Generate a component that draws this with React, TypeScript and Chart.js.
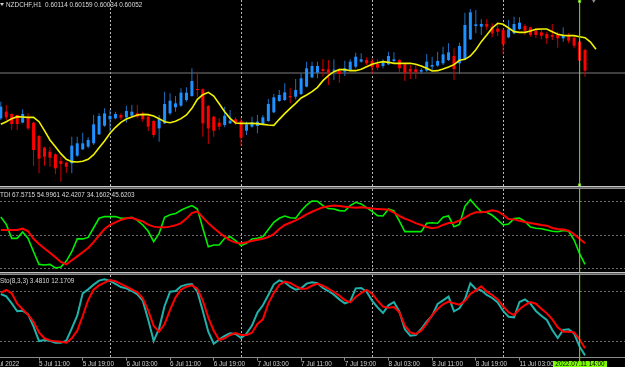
import React, { useEffect, useRef } from "react";
import { Chart, registerables } from "chart.js";
Chart.register(...registerables);

// ---------- data (H1 bars, 5 Jul 04:00 .. 11 Jul 15:00) ----------
const OPEN = [
  0.59909,0.59929,0.59922,0.59919,0.59896,0.59912,0.59896,0.59856,0.59821,0.59809,
  0.59801,0.59781,0.59776,0.59774,0.59797,0.59816,0.59824,0.59834,0.59861,0.59887,
  0.59906,0.59909,0.59919,0.59912,0.59917,0.59924,0.59921,0.59914,0.59901,0.59879,
  0.59894,0.59924,0.59942,0.59947,0.59964,0.59976,0.59997,0.59996,0.59946,0.59914,
  0.59896,0.59889,0.59894,0.59906,0.59901,0.59872,0.59884,0.59886,0.59892,0.59901,
  0.59927,0.59961,0.59964,0.59976,0.59974,0.59982,0.60004,0.60032,0.60046,0.60057,
  0.60056,0.60052,0.60051,0.60049,0.60054,0.60064,0.60079,0.60084,0.60081,0.60072,
  0.60066,0.60071,0.60081,0.60084,0.60071,0.60057,0.60056,0.60049,0.60052,0.60064,
  0.60067,0.60074,0.60084,0.60096,0.60074,0.60086,0.60146,0.60186,0.60184,0.60192,
  0.60184,0.60178,0.60174,0.60152,0.60164,0.60177,0.60186,0.60182,0.60172,0.60167,
  0.60162,0.60159,0.60159,0.60149,0.60156,0.60151,0.60139,0.60114,
];
const HIGH = [
  0.59959,0.59949,0.59924,0.59919,0.59936,0.59924,0.59899,0.59859,0.59824,0.59824,
  0.59804,0.59794,0.59779,0.59854,0.59854,0.59866,0.59852,0.59919,0.59924,0.59939,
  0.59934,0.59929,0.59924,0.59947,0.59949,0.59949,0.59929,0.59919,0.59904,0.59919,
  0.59989,0.59984,0.59976,0.59999,0.60002,0.60059,0.60049,0.59999,0.59949,0.59916,
  0.59909,0.59944,0.59934,0.59912,0.59909,0.59899,0.59914,0.59919,0.59919,0.59967,
  0.59982,0.59994,0.60014,0.60001,0.60027,0.60044,0.60079,0.60079,0.60079,0.60087,
  0.60084,0.60086,0.60059,0.60082,0.60086,0.60106,0.60104,0.60092,0.60089,0.60086,
  0.60086,0.60109,0.60107,0.60086,0.60074,0.60069,0.60069,0.60059,0.60102,0.60094,
  0.60109,0.60124,0.60134,0.60119,0.60136,0.60226,0.60237,0.60234,0.60206,0.60206,
  0.60194,0.60196,0.60179,0.60204,0.60214,0.60212,0.60192,0.60184,0.60179,0.60176,
  0.60169,0.60192,0.60169,0.60182,0.60164,0.60159,0.60144,0.60118,
];
const LOW = [
  0.59904,0.59904,0.59874,0.59874,0.59894,0.59874,0.59767,0.59744,0.59767,0.59764,
  0.59742,0.59719,0.59746,0.59744,0.59794,0.59814,0.59819,0.59829,0.59859,0.59884,
  0.59869,0.59906,0.59904,0.59896,0.59914,0.59909,0.59899,0.59871,0.59852,0.59839,
  0.59892,0.59919,0.59929,0.59944,0.59959,0.59974,0.59974,0.59854,0.59832,0.59854,
  0.59874,0.59882,0.59892,0.59889,0.59826,0.59859,0.59881,0.59864,0.59889,0.59899,
  0.59924,0.59959,0.59961,0.59954,0.59966,0.59979,0.60002,0.60029,0.60029,0.60034,
  0.60009,0.60024,0.60016,0.60036,0.60052,0.60059,0.60076,0.60069,0.60042,0.60054,
  0.60059,0.60069,0.60076,0.60044,0.60021,0.60027,0.60027,0.60042,0.60049,0.60051,
  0.60064,0.60069,0.60081,0.60024,0.60042,0.60084,0.60144,0.60164,0.60159,0.60174,
  0.60152,0.60156,0.60101,0.60149,0.60161,0.60174,0.60159,0.60154,0.60149,0.60146,
  0.60132,0.60144,0.60121,0.60139,0.60134,0.60119,0.60079,0.60034,
];
const CLOSE = [
  0.59944,0.59912,0.59892,0.59892,0.59922,0.59879,0.59814,0.59788,0.59794,0.59791,
  0.59759,0.59772,0.59764,0.59827,0.59834,0.59834,0.59844,0.59891,0.59916,0.59924,
  0.59916,0.59922,0.59911,0.59931,0.59929,0.59914,0.59906,0.59884,0.59859,0.59907,
  0.59952,0.59962,0.59954,0.59986,0.59986,0.60021,0.59994,0.59894,0.59879,0.59872,
  0.59884,0.59917,0.59902,0.59894,0.59851,0.59891,0.59897,0.59899,0.59912,0.59952,
  0.59972,0.59979,0.59987,0.59972,0.59994,0.60029,0.60059,0.60066,0.60066,0.60051,
  0.60047,0.60054,0.60042,0.60059,0.60079,0.60094,0.60086,0.60074,0.60062,0.60061,
  0.60076,0.60096,0.60086,0.60059,0.60046,0.60049,0.60047,0.60054,0.60079,0.60069,
  0.60081,0.60101,0.60107,0.60057,0.60126,0.60189,0.60227,0.60191,0.60192,0.60184,
  0.60164,0.60169,0.60131,0.60176,0.60192,0.60196,0.60172,0.60159,0.60159,0.60157,
  0.60149,0.60154,0.60149,0.60159,0.60142,0.60127,0.60082,0.60052,
];
// shifted moving average (extends 2 bars beyond the last candle)
const MA = [
  0.59891,0.59899,0.59908,0.59914,0.59913,0.59912,0.59912,0.59899,0.59872,0.59844,
  0.59824,0.59803,0.59786,0.59779,0.59778,0.59780,0.59786,0.59800,0.59821,0.59841,
  0.59864,0.59882,0.59897,0.59907,0.59913,0.59919,0.59921,0.59920,0.59916,0.59908,
  0.59899,0.59896,0.59900,0.59908,0.59919,0.59939,0.59966,0.59980,0.59987,0.59976,
  0.59953,0.59929,0.59909,0.59895,0.59894,0.59894,0.59894,0.59893,0.59891,0.59889,
  0.59888,0.59906,0.59923,0.59939,0.59954,0.59970,0.59979,0.59989,0.60002,0.60022,
  0.60037,0.60049,0.60055,0.60055,0.60052,0.60052,0.60056,0.60064,0.60071,0.60076,
  0.60079,0.60077,0.60074,0.60074,0.60074,0.60074,0.60071,0.60066,0.60059,0.60051,
  0.60052,0.60057,0.60063,0.60070,0.60083,0.60086,0.60096,0.60115,0.60139,0.60159,
  0.60180,0.60194,0.60191,0.60180,0.60169,0.60167,0.60167,0.60171,0.60176,0.60177,
  0.60177,0.60169,0.60161,0.60158,0.60157,0.60157,0.60154,0.60151,0.60138,0.60116,
];
const TDI_GREEN = [
  59.7,55.7,48.2,48.2,51.6,48.2,41.0,34.2,33.9,34.2,
  32.3,32.8,36.0,41.0,47.9,47.9,48.7,53.9,59.0,59.9,
  59.9,59.9,59.0,59.0,59.5,57.9,55.4,52.0,46.4,50.9,
  59.5,60.9,61.5,63.3,64.7,65.8,64.0,53.6,43.7,44.6,
  44.6,48.2,49.1,47.0,44.3,45.5,47.9,48.2,49.1,52.9,
  56.8,59.0,60.2,59.3,59.0,62.9,66.1,68.3,68.1,65.8,
  64.2,64.0,63.1,62.9,65.8,67.6,66.7,64.7,62.7,60.4,
  60.2,64.0,62.9,57.5,51.8,51.8,51.8,51.8,56.3,56.6,
  56.3,59.5,60.2,54.5,55.7,65.4,69.0,65.6,62.5,62.2,
  60.6,58.1,55.4,55.9,58.8,59.1,57.3,54.3,53.6,53.4,
  52.7,52.0,51.8,52.5,52.0,47.3,40.0,34.16,
];
const TDI_RED = [
  52.7,52.7,52.7,52.7,53.4,52.0,48.0,45.2,42.8,40.5,
  38.0,35.5,34.2,36.4,38.5,40.7,43.0,46.2,49.8,53.2,
  55.4,56.8,58.1,59.0,59.3,58.2,57.3,55.6,54.5,54.1,
  54.1,54.5,55.2,56.4,58.8,61.8,62.7,59.5,56.4,53.8,
  51.3,49.1,47.1,45.9,45.5,46.1,46.8,47.5,48.0,48.9,
  50.5,53.2,55.4,56.6,57.9,59.3,61.1,62.5,63.8,64.9,
  65.4,65.8,65.6,65.2,64.9,64.7,64.9,64.7,64.2,64.0,
  63.8,63.6,62.0,60.2,58.8,57.7,56.4,55.4,54.3,53.6,
  54.1,55.4,56.4,56.6,57.9,59.3,61.1,62.2,62.2,62.5,
  63.3,62.7,60.9,58.6,58.4,57.7,57.0,56.4,55.9,55.4,
  55.0,53.8,53.2,52.9,52.3,50.4,48.0,45.62,
];
const STO_MAIN = [
  77.6,74.8,66.3,56.7,57.5,53.0,38.1,20.8,22.1,21.2,
  18.8,18.8,21.2,36.1,51.4,78.4,83.2,88.9,93.7,95.3,
  93.3,89.7,86.0,84.4,81.2,77.2,69.5,46.6,20.8,36.1,
  63.1,80.4,81.2,86.8,88.9,89.7,80.4,57.1,32.1,17.6,
  22.5,26.9,30.1,29.3,24.5,29.7,39.4,55.1,63.9,76.4,
  89.3,94.1,91.7,86.4,82.8,84.4,90.1,91.7,90.5,84.8,
  81.2,76.8,71.1,66.3,68.7,84.4,84.8,80.4,69.5,61.5,
  54.6,63.9,67.9,56.3,34.9,27.3,28.1,35.3,44.2,51.4,
  65.5,69.9,74.4,56.7,60.3,71.1,90.5,83.6,82.0,76.4,
  72.8,67.5,57.1,50.2,49.4,67.9,71.1,65.9,57.1,51.4,
  46.2,34.1,24.5,34.1,34.9,30.1,14.0,3.481,
];
const STO_SIGNAL = [
  78.8,82.4,78.4,65.9,59.1,52.6,43.8,31.3,24.1,21.6,
  20.4,20.0,18.8,24.1,33.3,51.0,70.3,82.8,88.0,91.3,
  94.5,92.9,89.7,86.4,83.2,79.6,72.4,57.5,39.0,32.1,
  41.4,58.3,73.6,82.8,86.4,88.0,84.0,69.5,49.0,33.3,
  22.1,24.1,28.1,30.5,28.1,28.1,30.9,41.4,47.0,66.3,
  78.8,88.5,92.5,90.9,87.2,84.0,84.0,87.6,90.1,87.6,
  84.0,80.0,75.6,70.3,67.5,74.0,78.8,82.4,78.0,69.5,
  62.3,61.1,61.9,55.5,39.4,31.3,29.3,33.3,41.8,52.2,
  59.5,65.1,68.3,66.3,64.7,69.1,77.6,82.0,86.8,80.4,
  76.4,71.1,62.7,55.5,52.2,59.1,64.3,67.9,65.9,59.9,
  54.2,47.0,37.3,32.1,32.1,31.3,22.9,12.17,
];
const TIME_LABEL_POS = [-2, 7, 15, 23, 31, 39, 47, 55, 63, 71, 79, 87, 95];
const TIME_LABELS = [
  "5 Jul 2022", "5 Jul 11:00", "5 Jul 19:00", "6 Jul 03:00", "6 Jul 11:00",
  "6 Jul 19:00", "7 Jul 03:00", "7 Jul 11:00", "7 Jul 19:00", "8 Jul 03:00",
  "8 Jul 11:00", "8 Jul 19:00", "11 Jul 03:00",
];
const DAY_POS = [20, 44, 68, 92];
const TDI_LEVELS = [32, 50, 68];
const STO_LEVELS = [20, 80];
const CURSOR_POS = 106;
const SHIFT_POS = 108.6;
const BID = 0.60045;
const HEADER = "NZDCHF,H1  0.60114 0.60159 0.60034 0.60052";
const TDI_TEXT = "TDI 67.5715 54.9961 42.4207 34.1602 45.6203";
const STO_TEXT = "Sto(8,3,3) 3.4810 12.1709";
const CURSOR_TEXT = "2022.07.11 14:00";

// ---------- styling ----------
const X_MIN = -3.81;
const X_MAX = 114.32;
const UP = "#1e90ff";
const DOWN = "#ff0000";
const UP_WICK = "#1c6fc4";
const DOWN_WICK = "#d00000";
const VGRID = "#b8b8b8";
const LGRID = "#6a6a6a";
const CURSOR = "#6cc417";
const FONT = "'Liberation Sans', Arial, sans-serif";

function gridX(): any {
  return {
    type: "linear", min: X_MIN, max: X_MAX, bounds: "data", offset: false,
    afterBuildTicks: (s: any) => { s.ticks = DAY_POS.map((v) => ({ value: v })); },
    ticks: { display: false },
    grid: { color: VGRID, lineWidth: 1, drawTicks: false, offset: false },
    border: { display: false, dash: [2, 2] },
  };
}
function levelY(min: number, max: number, levels: number[]): any {
  return {
    type: "linear", min, max, bounds: "data",
    afterBuildTicks: (s: any) => { s.ticks = levels.map((v) => ({ value: v })); },
    ticks: { display: false },
    grid: { color: LGRID, lineWidth: 1, drawTicks: false },
    border: { display: false, dash: [2, 2] },
  };
}
function vline(yTop: number, yBot: number): any {
  return {
    type: "line", data: [{ x: CURSOR_POS, y: yTop }, { x: CURSOR_POS, y: yBot }],
    borderColor: CURSOR, borderWidth: 1, pointRadius: 0, clip: false, order: -5,
  };
}
const baseOpts: any = {
  responsive: false, animation: false, devicePixelRatio: 1, events: [],
  layout: { padding: 0, autoPadding: false },
  plugins: { legend: { display: false }, tooltip: { enabled: false }, title: { display: false } },
};

export default function App() {
  const mainRef = useRef<HTMLCanvasElement>(null);
  const tdiRef = useRef<HTMLCanvasElement>(null);
  const stoRef = useRef<HTMLCanvasElement>(null);

  useEffect(() => {
    document.body.style.margin = "0";
    document.body.style.background = "#000";
    const charts: Chart[] = [];
    const isUp = (i: number) => CLOSE[i] >= OPEN[i];

    const bodies = OPEN.map((o, i) => ({ x: i, y: [o, CLOSE[i]] }));
    const wicks = OPEN.map((_, i) => ({ x: i, y: [LOW[i], HIGH[i]] }));
    const MAIN_MIN = 0.59706, MAIN_MAX = 0.60264;

    charts.push(new Chart(mainRef.current!, {
      type: "line",
      data: {
        datasets: [
          { type: "line", data: [{ x: X_MIN, y: BID }, { x: X_MAX, y: BID }], borderColor: "#7c7c7c", borderWidth: 1, pointRadius: 0, order: 10 },
          { type: "bar", data: wicks, backgroundColor: OPEN.map((_, i) => (isUp(i) ? UP_WICK : DOWN_WICK)), barThickness: 1, grouped: false, borderWidth: 0, inflateAmount: 0, order: 3 },
          { type: "bar", data: bodies, backgroundColor: OPEN.map((_, i) => (isUp(i) ? UP : DOWN)), barThickness: 3, minBarLength: 1, grouped: false, borderWidth: 0, inflateAmount: 0, order: 2 },
          { type: "line", data: MA.map((v, i) => ({ x: i, y: v })), borderColor: "#f2f200", borderWidth: 1.6, pointRadius: 0, tension: 0, order: 1 },
          vline(MAIN_MAX, MAIN_MIN),
          { type: "line", showLine: false, data: [{ x: CURSOR_POS, y: 0.60260 }, { x: CURSOR_POS, y: 0.59709 }], pointStyle: "rect", pointRadius: 1.6, pointBackgroundColor: "#eaffea", pointBorderColor: CURSOR, pointBorderWidth: 1, clip: false, order: -6 },
          { type: "line", showLine: false, data: [{ x: SHIFT_POS, y: MAIN_MAX }], pointStyle: "triangle", rotation: 180, pointRadius: 3, pointBackgroundColor: "#8c8c8c", pointBorderWidth: 0, clip: false, order: -6 },
        ],
      } as any,
      options: { ...baseOpts, scales: { x: gridX(), y: { type: "linear", min: MAIN_MIN, max: MAIN_MAX, display: false } } },
    }));

    charts.push(new Chart(tdiRef.current!, {
      type: "line",
      data: {
        datasets: [
          { data: TDI_GREEN.map((v, i) => ({ x: i, y: v })), borderColor: "#00ee00", borderWidth: 1.6, pointRadius: 0, tension: 0, order: 2 },
          { data: TDI_RED.map((v, i) => ({ x: i, y: v })), borderColor: "#ff0000", borderWidth: 2, pointRadius: 0, tension: 0, order: 1 },
          vline(75, 30),
        ],
      } as any,
      options: { ...baseOpts, scales: { x: gridX(), y: levelY(30.12, 74.72, TDI_LEVELS) } },
    }));

    const STO_MIN = 0.8, STO_MAX = 100.52;
    charts.push(new Chart(stoRef.current!, {
      type: "line",
      data: {
        datasets: [
          { data: STO_MAIN.map((v, i) => ({ x: i, y: v })), borderColor: "#20b2aa", borderWidth: 2, pointRadius: 0, tension: 0, order: 2 },
          { data: STO_SIGNAL.map((v, i) => ({ x: i, y: v })), borderColor: "#ff0000", borderWidth: 2, pointRadius: 0, tension: 0, order: 1 },
          vline(STO_MAX, -4.5),
        ],
      } as any,
      options: {
        ...baseOpts,
        scales: {
          x: {
            type: "linear", min: X_MIN, max: X_MAX, bounds: "data", offset: false, position: "bottom",
            afterBuildTicks: (s: any) => { s.ticks = TIME_LABEL_POS.map((v) => ({ value: v })); },
            ticks: {
              autoSkip: false, maxRotation: 0, minRotation: 0, align: "start", padding: 0,
              color: "#cfcfcf", font: { family: FONT, size: 6.4, lineHeight: 1 },
              callback: (_v: any, i: number) => TIME_LABELS[i],
            },
            grid: { drawOnChartArea: false, drawTicks: true, tickLength: 3, tickColor: "#8a8a8a", color: "#8a8a8a", offset: false },
            border: { display: true, color: "#8a8a8a", width: 1 },
          },
          xg: gridX(),
          y: levelY(STO_MIN, STO_MAX, STO_LEVELS),
        },
      },
    }));

    return () => charts.forEach((c) => c.destroy());
  }, []);

  const text: React.CSSProperties = {
    position: "absolute", fontFamily: FONT, fontSize: "6.4px", lineHeight: 1,
    color: "#dadada", whiteSpace: "pre", margin: 0,
  };
  const sep = (top: number): React.CSSProperties => ({
    position: "absolute", left: 0, top, width: 625, height: 3,
    boxSizing: "border-box", borderTop: "1px solid #c4c4c4", borderBottom: "1px solid #8c8c8c", background: "#5c5c5c",
  });

  return (
    <div style={{ position: "fixed", left: 0, top: 0, width: 625, height: 367, background: "#000", overflow: "hidden" }}>
      <canvas ref={mainRef} width={645} height={186} style={{ position: "absolute", left: -20, top: 0, width: 645, height: 186 }} />
      <div style={sep(186)} />
      <canvas ref={tdiRef} width={645} height={83} style={{ position: "absolute", left: -20, top: 189, width: 645, height: 83 }} />
      <div style={sep(272)} />
      <canvas ref={stoRef} width={645} height={92} style={{ position: "absolute", left: -20, top: 275, width: 645, height: 92 }} />
      <div style={{ position: "absolute", left: 0, top: 3, width: 0, height: 0, borderLeft: "2px solid transparent", borderRight: "2px solid transparent", borderTop: "3px solid #d0d0d0" }} />
      <div style={{ ...text, left: 6, top: 1.9 }}>{HEADER}</div>
      <div style={{ ...text, left: 0, top: 192.3 }}>{TDI_TEXT}</div>
      <div style={{ ...text, left: 0, top: 277.9 }}>{STO_TEXT}</div>
      <div style={{ ...text, left: 553, top: 360.8, width: 54, height: 8, background: "#7cfc00", color: "#000", textAlign: "center", paddingTop: 0.7, boxSizing: "border-box" }}>{CURSOR_TEXT}</div>
    </div>
  );
}
